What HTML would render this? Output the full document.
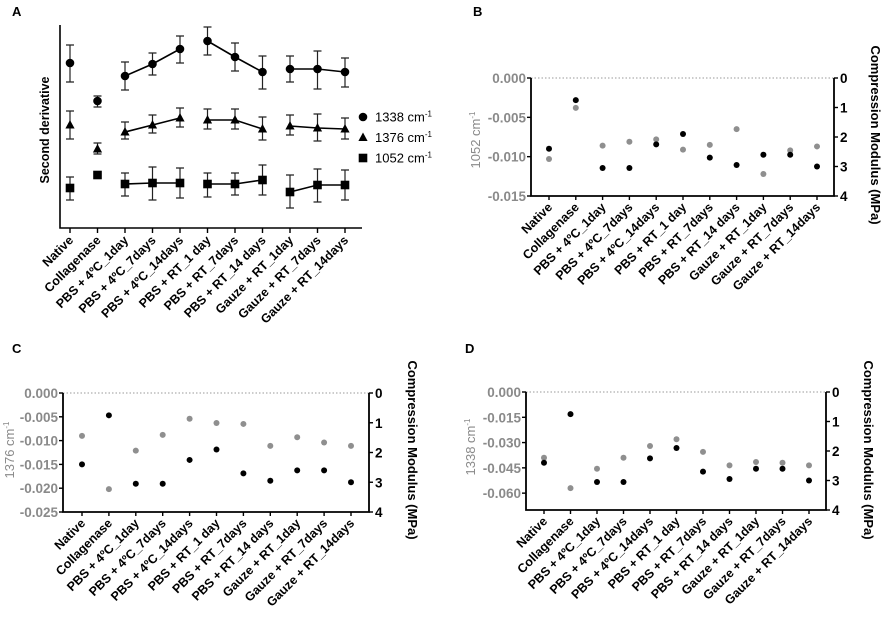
<!DOCTYPE html>
<html><head><meta charset="utf-8"><style>
html,body{margin:0;padding:0;background:#fff}
svg{display:block;font-family:"Liberation Sans",Arial,sans-serif}
</style></head><body>
<svg id="fig" width="886" height="617" viewBox="0 0 886 617"></svg>
<script>
const categories = ["Native","Collagenase","PBS + 4ºC_1day","PBS + 4ºC_7days","PBS + 4ºC_14days","PBS + RT_1 day","PBS + RT_7days","PBS + RT_14 days","Gauze + RT_1day","Gauze + RT_7days","Gauze + RT_14days"];
// Panel A (arbitrary second-derivative units, larger = higher)
const a1338 = [165,127,152,164,179,187,171,156,159,159,156];
const a1338Lo = [146,121,138,153,165,173,157,139,146,139,141];
const a1338Hi = [183,132,166,175,192,201,185,172,172,177,170];
const a1376 = [103,79,96,103,110,108,108,99,102,100,99];
const a1376Lo = [89,74,89,95,101,99,99,88,93,87,89];
const a1376Hi = [117,85,106,113,120,119,119,111,113,114,110];
const a1052 = [40,53,44,45,45,44,44,48,36,43,43];
const a1052Lo = [28,53,32,28,30,31,33,33,20,26,28];
const a1052Hi = [51,53,55,61,60,55,55,63,53,59,58];
const aGroups = [[0],[1],[2,3,4],[5,6,7],[8,9,10]];
// Panels B-D
const modulus = [2.4,0.75,3.05,3.05,2.25,1.9,2.7,2.95,2.6,2.6,3.0];
const b1052 = [-0.0103,-0.0038,-0.0086,-0.0081,-0.0078,-0.0091,-0.0085,-0.0065,-0.0122,-0.0092,-0.0087];
const c1376 = [-0.0090,-0.0202,-0.0121,-0.0088,-0.0054,-0.0063,-0.0065,-0.0111,-0.0093,-0.0104,-0.0111];
const d1338 = [-0.039,-0.057,-0.0455,-0.039,-0.032,-0.028,-0.0355,-0.0435,-0.0415,-0.042,-0.0435];
const bTicks = ["0.000","-0.005","-0.010","-0.015"];
const cTicks = ["0.000","-0.005","-0.010","-0.015","-0.020","-0.025"];
const dTicks = ["0.000","-0.015","-0.030","-0.045","-0.060"];
const modTicks = ["0","1","2","3","4"];

const NS="http://www.w3.org/2000/svg";
const svg=document.getElementById('fig');
function el(tag,attrs,parent,text){const e=document.createElementNS(NS,tag);for(const k in attrs)e.setAttribute(k,attrs[k]);if(text!==undefined)e.textContent=text;(parent||svg).appendChild(e);return e;}
function grp(name){const g=el('g',{});


return g;}

// ---------- Panel A ----------
(function(){
  const g=grp('panel-a');
  const t=el('text',{x:12,y:16,'font-size':13,'font-weight':'bold'},g,'A');
  
  
  const x0=60,x1=362,yT=25,yB=228;
  const xs=i=>70+i*27.5;
  const ys=v=>228-v;
  const ax=el('path',{d:`M${x0} ${yT}V${yB}H${x1}`,stroke:'#000','stroke-width':1.6,fill:'none'},g);
  
  
  categories.forEach((c,i)=>{
    el('line',{x1:xs(i),x2:xs(i),y1:yB,y2:yB+5,stroke:'#000','stroke-width':1.4},g);
    const lb=el('text',{x:0,y:0,'font-size':12.5,'font-weight':'bold','text-anchor':'end',transform:`translate(${xs(i)+4},${yB+13}) rotate(-45)`},g,c);
    
    
  });
  const yl=el('text',{x:0,y:0,'font-size':12.5,'font-weight':'bold','text-anchor':'middle',transform:'translate(49,130) rotate(-90)'},g,'Second derivative');
  
  
  const series=[[a1338,a1338Lo,a1338Hi,'circle','1338'],[a1376,a1376Lo,a1376Hi,'tri','1376'],[a1052,a1052Lo,a1052Hi,'sq','1052']];
  function marker(shape,x,y,parent){
    if(shape==='circle') return el('circle',{cx:x,cy:y,r:4.3,fill:'#000'},parent);
    if(shape==='tri') return el('path',{d:`M${x} ${y-5}L${x+4.6} ${y+3.5}L${x-4.6} ${y+3.5}Z`,fill:'#000'},parent);
    return el('rect',{x:x-4.3,y:y-4.3,width:8.6,height:8.6,fill:'#000'},parent);
  }
  series.forEach(([v,lo,hi,shape,name])=>{
    const sg=el('g',{},g);
    
    
    aGroups.forEach(gr=>{
      if(gr.length>1){
        el('polyline',{points:gr.map(i=>xs(i)+','+ys(v[i])).join(' '),fill:'none',stroke:'#000','stroke-width':1.6},sg);
      }
    });
    v.forEach((val,i)=>{
      const x=xs(i);
      el('path',{d:`M${x} ${ys(lo[i])}V${ys(hi[i])}M${x-4} ${ys(lo[i])}H${x+4}M${x-4} ${ys(hi[i])}H${x+4}`,stroke:'#222','stroke-width':1.2,fill:'none'},sg);
      const m=marker(shape,x,ys(val),sg);
      
      
    });
  });
  const lg=el('g',{},g);
  
  
  series.forEach((s,k)=>{
    const y=117+k*20.5;
    marker(s[3],363,y,lg);
    const tx=el('text',{x:375,y:y+4.5,'font-size':13},lg);
    
    
    tx.appendChild(document.createTextNode(s[4]+' cm'));
    el('tspan',{dy:-5,'font-size':8},tx,'-1');
  });
})();

// ---------- Panels B-D ----------
function dual(o){
  const g=grp('panel-'+o.letter.toLowerCase());
  const t=el('text',{x:o.lx,y:o.ly,'font-size':13,'font-weight':'bold'},g,o.letter);
  
  
  const xs=i=>o.cx0+i*o.dx;
  const ysL=v=>o.yT+(v/o.min)*(o.yB-o.yT);
  const ysR=v=>o.yT+(v/4)*(o.yB-o.yT);
  el('line',{x1:o.xL,x2:o.xR,y1:o.yT,y2:o.yT,stroke:'#999','stroke-width':1,'stroke-dasharray':'1.5,2'},g);
  const ax=el('path',{d:`M${o.xL} ${o.yT}V${o.yB}H${o.xR}V${o.yT}`,stroke:'#000','stroke-width':1.8,fill:'none'},g);
  
  
  o.ticks.forEach(tk=>{
    const y=ysL(parseFloat(tk));
    el('line',{x1:o.xL-4,x2:o.xL,y1:y,y2:y,stroke:'#000','stroke-width':1.4},g);
    const lb=el('text',{x:o.xL-5,y:y+5,'font-size':13.5,'font-weight':'bold',fill:'#8a8a8a','text-anchor':'end'},g,tk);
    
    
  });
  modTicks.forEach(tk=>{
    const y=ysR(parseFloat(tk));
    el('line',{x1:o.xR,x2:o.xR+4,y1:y,y2:y,stroke:'#000','stroke-width':1.4},g);
    const lb=el('text',{x:o.xR+6,y:y+5,'font-size':13.5,'font-weight':'bold'},g,tk);
    
    
  });
  categories.forEach((c,i)=>{
    el('line',{x1:xs(i),x2:xs(i),y1:o.yB,y2:o.yB+4,stroke:'#000','stroke-width':1.4},g);
    const lb=el('text',{x:0,y:0,'font-size':12.5,'font-weight':'bold','text-anchor':'end',transform:`translate(${xs(i)+4},${o.yB+12}) rotate(-45)`},g,c);
    
    
  });
  const yl=el('text',{x:0,y:0,'font-size':13,fill:'#8a8a8a','text-anchor':'middle',transform:`translate(${o.ylx},${o.yly}) rotate(-90)`},g);
  
  
  yl.appendChild(document.createTextNode(o.wave+' cm'));
  el('tspan',{dy:-5,'font-size':8},yl,'-1');
  const yr=el('text',{x:0,y:0,'font-size':13,'font-weight':'bold','text-anchor':'middle',transform:`translate(${o.yrx},${o.yry}) rotate(90)`},g,'Compression Modulus (MPa)');
  
  
  o.gray.forEach((v,i)=>{
    const p=el('circle',{cx:xs(i),cy:ysL(v),r:3,fill:'#8f8f8f'},g);
    
    
  });
  modulus.forEach((v,i)=>{
    const p=el('circle',{cx:xs(i),cy:ysR(v),r:3,fill:'#000'},g);
    
    
  });
}
dual({letter:'B',lx:473,ly:16,xL:531,xR:834,yT:78,yB:196,min:-0.015,ticks:bTicks,cx0:549,dx:26.8,gray:b1052,wave:'1052',ylx:480,yly:140,yrx:871,yry:135});
dual({letter:'C',lx:12,ly:353,xL:63,xR:369,yT:393,yB:512,min:-0.025,ticks:cTicks,cx0:82,dx:26.9,gray:c1376,wave:'1376',ylx:14,yly:450,yrx:408,yry:450});
dual({letter:'D',lx:465,ly:353,xL:526,xR:826,yT:392,yB:510,min:-0.07,ticks:dTicks,cx0:544,dx:26.5,gray:d1338,wave:'1338',ylx:475,yly:447,yrx:864,yry:450});
</script>
</body></html>
